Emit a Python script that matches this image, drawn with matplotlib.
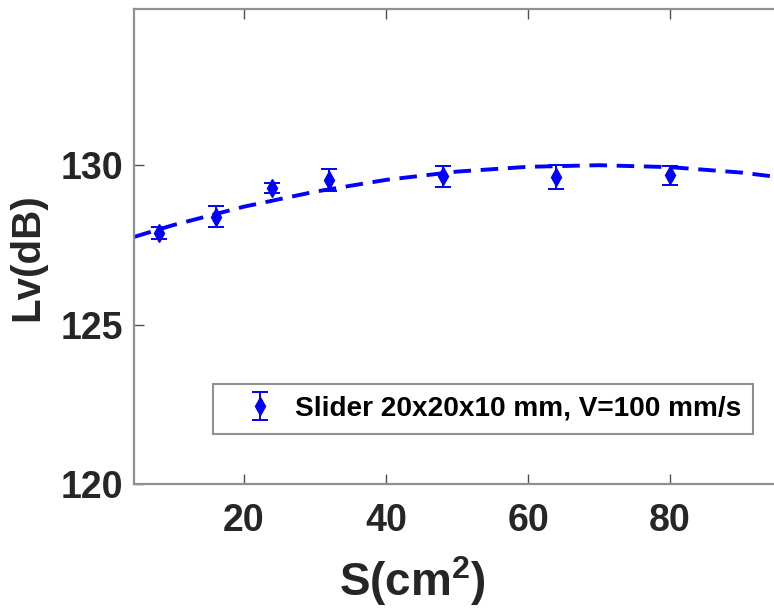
import numpy as np
import matplotlib.pyplot as plt

# measured points (contact area vs level)
area = [8, 16, 24, 32, 48, 64, 80]
level = [127.87, 128.38, 129.29, 129.54, 129.65, 129.63, 129.68]
level_err = [0.20, 0.33, 0.15, 0.35, 0.34, 0.38, 0.31]

# fitted trend
fit_x = [4.5, 10, 20, 30, 40, 50, 60, 70, 80, 90, 100]
fit_y = [127.75, 128.12, 128.70, 129.17, 129.54, 129.80, 129.95, 130.00, 129.94, 129.77, 129.50]

x_ticks = [20, 40, 60, 80]
y_ticks = [120, 125, 130]

plt.rcParams['font.family'] = ['Liberation Sans', 'DejaVu Sans']
plt.rcParams['font.weight'] = 'bold'
plt.rcParams['mathtext.fontset'] = 'custom'
plt.rcParams['mathtext.rm'] = 'Liberation Sans:bold'
plt.rcParams['mathtext.bf'] = 'Liberation Sans:bold'
plt.rcParams['mathtext.it'] = 'Liberation Sans:bold'

fig = plt.figure(figsize=(7.74, 6.10), dpi=100)
ax = fig.add_axes([134 / 774, 1 - 484 / 610, 678 / 774, 475 / 610])

blue = '#0000ff'
ax.plot(fit_x, fit_y, color=blue, linewidth=2.8, linestyle=(0, (4.5, 2.5)))
ax.errorbar(area, level, yerr=level_err, fmt='d', color=blue, ecolor=blue,
            markersize=9, elinewidth=1.4, capsize=5.5, capthick=1.4,
            label='Slider 20x20x10 mm, V=100 mm/s')

ax.set_xlim(4.5, 100)
ax.set_ylim(120, 134.9)
ax.set_xticks(x_ticks)
ax.set_yticks(y_ticks)
ax.tick_params(direction='in', top=True, right=True, length=7, width=1,
               color='#505050', labelsize=27, labelcolor='#262626')
ax.tick_params(axis='x', pad=14)
ax.tick_params(axis='y', pad=8)
for lab in ax.get_xticklabels() + ax.get_yticklabels():
    lab.set_fontweight('bold')
for sp in ax.spines.values():
    sp.set_color('#909090')
    sp.set_linewidth(1.6)

ax.set_xlabel(r'S(cm$^2$)', fontsize=33, fontweight='bold', color='#262626')
ax.set_ylabel('Lv(dB)', fontsize=29, fontweight='bold', color='#262626')
ax.xaxis.set_label_coords((412 - 134) / 678, -0.148)
ax.yaxis.set_label_coords(-0.13, 0.478)

leg = ax.legend(loc='upper left', bbox_to_anchor=(213 / 774, 1 - 384 / 610),
                bbox_transform=fig.transFigure, borderaxespad=0,
                fontsize=20.2, handlelength=2.5, handletextpad=0.0,
                borderpad=0.42, fancybox=False, framealpha=1)
leg.get_frame().set_edgecolor('#909090')
leg.get_frame().set_linewidth(1.5)
for t in leg.get_texts():
    t.set_fontweight('bold')

fig.savefig('out.png', dpi=100)
